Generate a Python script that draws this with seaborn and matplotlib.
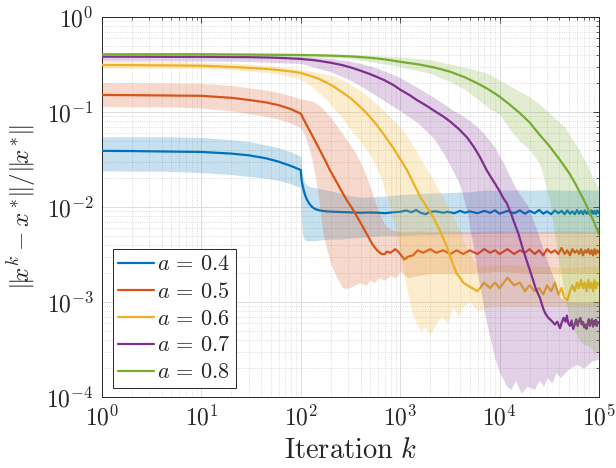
import matplotlib
matplotlib.use("Agg")
import matplotlib.pyplot as plt
import matplotlib.ticker as mticker
import numpy as np
import pandas as pd
import seaborn as sns

# ---------------- data ----------------
labels = [r"$a\,=\,0.4$", r"$a\,=\,0.5$", r"$a\,=\,0.6$", r"$a\,=\,0.7$", r"$a\,=\,0.8$"]
colors = ["#0072BD", "#D95319", "#EDB120", "#7E2F8E", "#77AC30"]

# sample positions of the noisy plateau at the end of the run
tail_x = [5000, 6000, 7000, 8000, 9000, 10000, 12000, 14000, 16000, 18000, 20000,
          22500, 25000, 27500, 30000, 33000, 36000, 39000, 42000, 45000, 48000, 51000,
          54000, 57000, 60000, 63000, 66000, 69000, 72000, 75000, 78000, 81000, 84000,
          87000, 90000, 93000, 96000, 100000]

# a = 0.4
blue_x = [1, 2, 5, 10, 20, 30, 45, 60, 80, 100, 100.5, 101, 102, 104, 107, 110, 115, 122,
          130, 140, 155, 180, 220, 300, 400, 500, 600, 700, 850, 1000, 1150, 1300, 1450,
          1600, 1800, 2000, 2300, 2700, 3000, 3500, 4000, 4500] + tail_x
blue_y = [0.039, 0.0388, 0.0383, 0.038, 0.0365, 0.035, 0.0325, 0.030, 0.027, 0.0245,
          0.022, 0.0205, 0.019, 0.017, 0.015, 0.0135, 0.012, 0.0108, 0.0100, 0.0095,
          0.0092, 0.0090, 0.0089, 0.0088, 0.0087, 0.00875, 0.0087, 0.0086, 0.0088,
          0.0089, 0.0092, 0.0088, 0.0093, 0.0087, 0.0084, 0.0089, 0.0090, 0.0087,
          0.0089, 0.0086, 0.0091, 0.0087,
          0.0090, 0.0086, 0.0091, 0.0087, 0.0092, 0.0085, 0.0091, 0.0086, 0.0092, 0.0085,
          0.0091, 0.0086, 0.0093, 0.0085, 0.0090, 0.0084, 0.0092, 0.0086, 0.0091, 0.0084,
          0.0092, 0.0085, 0.0090, 0.0084, 0.0093, 0.0085, 0.0091, 0.0084, 0.0092, 0.0085,
          0.0090, 0.0083, 0.0092, 0.0085, 0.0091, 0.0084, 0.0092, 0.0086]
blue_band_x = [1, 5, 10, 20, 30, 45, 60, 80, 100, 100.5, 101, 102, 104, 107, 110, 115,
               125, 140, 160, 200, 250, 300, 400, 500, 700, 1000, 1500, 2000, 3000, 5000,
               7000, 10000, 15000, 20000, 30000, 50000, 70000, 100000]
blue_lo = [0.024, 0.0237, 0.023, 0.022, 0.021, 0.020, 0.019, 0.0175, 0.016, 0.012, 0.009,
           0.0065, 0.0052, 0.0047, 0.0045, 0.0044, 0.0044, 0.0044, 0.0045, 0.0046, 0.0046,
           0.0047, 0.0048, 0.0049, 0.005, 0.005, 0.0051, 0.0051, 0.0052, 0.0052, 0.0053,
           0.0053, 0.0053, 0.0053, 0.0053, 0.0053, 0.0053, 0.0053]
blue_hi = [0.055, 0.0548, 0.054, 0.051, 0.049, 0.045, 0.042, 0.038, 0.034, 0.031, 0.028,
           0.025, 0.022, 0.0195, 0.018, 0.017, 0.0163, 0.016, 0.0155, 0.0148, 0.014,
           0.0132, 0.0127, 0.0128, 0.013, 0.0135, 0.0138, 0.014, 0.0142, 0.0145, 0.015,
           0.015, 0.0152, 0.015, 0.0152, 0.015, 0.0152, 0.015]

# a = 0.5
orange_x = [1, 2, 5, 10, 20, 30, 45, 60, 80, 100, 110, 125, 140, 160, 180, 196, 220, 250,
            290, 337, 400, 475, 530, 585, 650, 700, 735, 800, 890, 950, 1000, 1100, 1200,
            1340, 1500, 1700, 2000, 2300, 2700, 3200, 3700, 4300] + tail_x
orange_y = [0.151, 0.1505, 0.149, 0.148, 0.141, 0.134, 0.126, 0.118, 0.107, 0.096, 0.079,
            0.0615, 0.049, 0.0375, 0.0295, 0.0245, 0.0198, 0.0155, 0.0118, 0.0093, 0.0068,
            0.0049, 0.0040, 0.0035, 0.0032, 0.0032, 0.0034, 0.0033, 0.0036, 0.0034,
            0.0032, 0.0028, 0.0030, 0.0031, 0.0035, 0.0033, 0.0036, 0.0033, 0.0035,
            0.0032, 0.0035, 0.0032,
            0.0035, 0.0032, 0.0036, 0.0033, 0.0035, 0.0032, 0.0036, 0.0032, 0.0035, 0.0033,
            0.0036, 0.0032, 0.0035, 0.0031, 0.0036, 0.0033, 0.0035, 0.0032, 0.0037, 0.0032,
            0.0035, 0.0031, 0.0036, 0.0033, 0.0035, 0.0032, 0.0036, 0.0031, 0.0035, 0.0033,
            0.0036, 0.0032, 0.0035, 0.0031, 0.0036, 0.0032, 0.0035, 0.0033]
orange_band_x = [1, 5, 10, 20, 30, 45, 60, 80, 100, 110, 120, 130, 140, 150, 167, 185, 200,
                 230, 265, 300, 350, 395, 450, 500, 550, 600, 700, 800, 900, 1000, 1200,
                 1500, 2000, 3000, 5000, 10000, 20000, 50000, 100000]
orange_lo = [0.114, 0.113, 0.11, 0.103, 0.096, 0.09, 0.084, 0.076, 0.068, 0.056, 0.043,
             0.031, 0.021, 0.013, 0.0053, 0.0034, 0.0025, 0.0018, 0.0014, 0.0014, 0.0015,
             0.0016, 0.0015, 0.0017, 0.0016, 0.0018, 0.0017, 0.0019, 0.0018, 0.0021,
             0.0018, 0.0019, 0.002, 0.002, 0.002, 0.0021, 0.002, 0.002, 0.002]
orange_hi = [0.203, 0.202, 0.20, 0.19, 0.18, 0.17, 0.16, 0.148, 0.137, 0.135, 0.133, 0.13,
             0.125, 0.12, 0.108, 0.096, 0.087, 0.072, 0.058, 0.048, 0.038, 0.030, 0.022,
             0.016, 0.012, 0.009, 0.0065, 0.0058, 0.0056, 0.0055, 0.0055, 0.0056, 0.0055,
             0.0056, 0.0055, 0.0056, 0.0055, 0.0056, 0.0055]

# a = 0.6
yellow_x = [1, 2, 5, 10, 20, 30, 45, 60, 80, 100, 125, 150, 180, 215, 260, 316, 380, 460,
            570, 700, 850, 1000, 1170, 1370, 1590, 1850, 2150, 2500, 2950, 3400, 3700,
            4000, 4300] + tail_x
yellow_y = [0.312, 0.3115, 0.309, 0.307, 0.298, 0.292, 0.284, 0.276, 0.267, 0.258, 0.24,
            0.225, 0.205, 0.185, 0.162, 0.14, 0.118, 0.097, 0.075, 0.056, 0.042, 0.032,
            0.0245, 0.0175, 0.0128, 0.0100, 0.0078, 0.0057, 0.0038, 0.0025, 0.0020,
            0.0018, 0.0016,
            0.00145, 0.0013, 0.0016, 0.0014, 0.0016, 0.0014, 0.0018, 0.0015, 0.0016,
            0.0013, 0.0015, 0.0013, 0.0014, 0.0012, 0.0015, 0.0013, 0.0016, 0.0012,
            0.0014, 0.0011, 0.00105, 0.0013, 0.0015, 0.0013, 0.0016, 0.0014, 0.0017,
            0.0014, 0.0016, 0.0013, 0.0017, 0.0014, 0.0016, 0.0013, 0.0017, 0.0014,
            0.0016, 0.0015]
yellow_band_x = [1, 5, 10, 20, 30, 45, 60, 80, 100, 125, 150, 180, 215, 260, 316, 380, 460,
                 535, 620, 700, 800, 900, 1000, 1100, 1200, 1300, 1450, 1600, 1800, 2000,
                 2300, 2600, 3000, 3400, 3800, 4300, 5000, 6000, 8000, 10000, 20000, 50000,
                 100000]
yellow_lo = [0.29, 0.288, 0.286, 0.278, 0.27, 0.26, 0.25, 0.235, 0.22, 0.19, 0.16, 0.135,
             0.11, 0.087, 0.066, 0.052, 0.04, 0.031, 0.022, 0.015, 0.0095, 0.006, 0.0035,
             0.0018, 0.0012, 0.0008, 0.0006, 0.0005, 0.00055, 0.00045, 0.0006, 0.0007,
             0.0006, 0.0009, 0.0007, 0.0009, 0.001, 0.0008, 0.0009, 0.0009, 0.0009,
             0.0009, 0.0009]
yellow_hi = [0.34, 0.339, 0.335, 0.327, 0.32, 0.31, 0.30, 0.29, 0.28, 0.27, 0.26, 0.25,
             0.24, 0.218, 0.195, 0.172, 0.15, 0.13, 0.114, 0.10, 0.088, 0.078, 0.068,
             0.061, 0.054, 0.047, 0.039, 0.032, 0.026, 0.022, 0.017, 0.0135, 0.0102,
             0.008, 0.0062, 0.0045, 0.0031, 0.0024, 0.0024, 0.0025, 0.0024, 0.0023, 0.0024]

# a = 0.7
purple_x = [1, 2, 5, 10, 20, 30, 50, 70, 100, 140, 200, 260, 316, 400, 500, 600, 700, 850,
            1000, 1250, 1500, 1850, 2200, 2700, 3200, 3900, 4700, 5500, 6300, 7400, 8200,
            9000, 10000, 11000, 11800, 13000, 14000, 15500, 17300, 19000, 21000, 23000,
            25500, 27500, 29000, 31000, 33000, 36000, 38000, 40500, 42000, 44000, 46000,
            47500, 49000, 51000, 53000, 55000, 57000, 59000, 61000, 63000, 65000, 67000,
            69000, 71000, 73000, 75000, 77000, 79000, 81000, 83000, 85000, 87000, 89000,
            91000, 93000, 95000, 97000, 100000]
purple_y = [0.382, 0.382, 0.381, 0.381, 0.379, 0.378, 0.374, 0.369, 0.362, 0.35, 0.33,
            0.312, 0.295, 0.272, 0.25, 0.231, 0.215, 0.193, 0.172, 0.15, 0.132, 0.116,
            0.103, 0.09, 0.079, 0.066, 0.054, 0.043, 0.034, 0.0245, 0.0205, 0.0176,
            0.0147, 0.0122, 0.011, 0.0086, 0.0069, 0.0052, 0.0035, 0.0026, 0.0019,
            0.0014, 0.0011, 0.00085, 0.00075, 0.00068, 0.00064, 0.00058, 0.00062,
            0.00053, 0.0006, 0.00068, 0.00062, 0.00072, 0.0006, 0.00056, 0.00064,
            0.00052, 0.00058, 0.00066, 0.00056, 0.00064, 0.00068, 0.00058, 0.00062,
            0.00054, 0.00058, 0.00052, 0.0006, 0.00066, 0.00056, 0.00062, 0.00066,
            0.00055, 0.00063, 0.00058, 0.00065, 0.00056, 0.00062, 0.0006]
purple_band_x = [1, 5, 10, 30, 100, 200, 300, 400, 500, 700, 1000, 1500, 2200, 2800, 3360,
                 4000, 4700, 5400, 6300, 7400, 9000, 10000, 11000, 11800, 13000, 14400,
                 16500, 19000, 22400, 25000, 27700, 30000, 33600, 37000, 40800, 50000,
                 60000, 70000, 85000, 100000]
purple_lo = [0.345, 0.345, 0.344, 0.34, 0.325, 0.265, 0.222, 0.188, 0.163, 0.13, 0.103,
             0.077, 0.052, 0.035, 0.0245, 0.017, 0.009, 0.004, 0.0015, 0.0006, 0.00025,
             0.00018, 0.00015, 0.00013, 0.00012, 0.00015, 0.00011, 0.00013, 0.00012,
             0.00015, 0.00013, 0.00016, 0.00014, 0.00018, 0.00016, 0.0002, 0.00022,
             0.0002, 0.00024, 0.00025]
purple_hi = [0.395, 0.395, 0.395, 0.393, 0.385, 0.365, 0.345, 0.325, 0.305, 0.27, 0.23,
             0.18, 0.142, 0.12, 0.105, 0.095, 0.085, 0.076, 0.066, 0.055, 0.042, 0.034,
             0.029, 0.0245, 0.02, 0.016, 0.013, 0.0105, 0.0068, 0.0048, 0.0035, 0.0027,
             0.002, 0.0015, 0.0011, 0.001, 0.001, 0.001, 0.001, 0.001]

# a = 0.8
green_x = [1, 3, 10, 30, 100, 200, 316, 500, 700, 1000, 1585, 2240, 3160, 4470, 6310,
           7940, 10000, 12600, 15850, 19950, 25100, 31600, 39800, 50100, 56200, 63100,
           70800, 79400, 89100, 100000]
green_y = [0.405, 0.405, 0.405, 0.402, 0.398, 0.392, 0.385, 0.372, 0.358, 0.338, 0.315,
           0.293, 0.266, 0.232, 0.195, 0.17, 0.145, 0.12, 0.098, 0.078, 0.058, 0.044,
           0.032, 0.0228, 0.0185, 0.0148, 0.0117, 0.0091, 0.0069, 0.0052]
green_band_x = [1, 10, 100, 316, 1000, 2000, 3160, 4470, 6310, 7940, 10000, 12600, 15850,
                19950, 22000, 25100, 28000, 31600, 35000, 39800, 45000, 50100, 56200,
                63100, 70800, 79400, 89100, 100000]
green_lo = [0.39, 0.39, 0.382, 0.367, 0.30, 0.255, 0.21, 0.172, 0.132, 0.108, 0.095, 0.066,
            0.05, 0.04, 0.035, 0.029, 0.02, 0.012, 0.006, 0.0025, 0.0012, 0.0007, 0.0005,
            0.0004, 0.00035, 0.00035, 0.0003, 0.0003]
green_hi = [0.42, 0.42, 0.415, 0.405, 0.38, 0.355, 0.32, 0.295, 0.27, 0.25, 0.215, 0.19,
            0.165, 0.145, 0.134, 0.122, 0.11, 0.098, 0.088, 0.078, 0.07, 0.058, 0.048,
            0.04, 0.032, 0.025, 0.019, 0.016]

lines_x = [blue_x, orange_x, yellow_x, purple_x, green_x]
lines_y = [blue_y, orange_y, yellow_y, purple_y, green_y]
bands_x = [blue_band_x, orange_band_x, yellow_band_x, purple_band_x, green_band_x]
bands_lo = [blue_lo, orange_lo, yellow_lo, purple_lo, green_lo]
bands_hi = [blue_hi, orange_hi, yellow_hi, purple_hi, green_hi]

xticks = [1, 10, 100, 1000, 10000, 100000]
yticks = [1e-4, 1e-3, 1e-2, 1e-1, 1]

# ---------------- styling ----------------
sns.set_theme(style="white")
plt.rcParams["mathtext.fontset"] = "cm"
plt.rcParams["font.family"] = ["cmr10", "DejaVu Serif"]
plt.rcParams["axes.formatter.use_mathtext"] = True
plt.rcParams["axes.unicode_minus"] = False

fig = plt.figure(figsize=(6.16, 4.68), dpi=100)
ax = fig.add_axes([102 / 616, 1 - 397 / 468, 497 / 616, 380 / 468])
ax.set_xscale("log")
ax.set_yscale("log")

for i, (lx, ly, bx, lo, hi, c, lab) in enumerate(
        zip(lines_x, lines_y, bands_x, bands_lo, bands_hi, colors, labels)):
    ax.fill_between(bx, lo, hi, color=c, alpha=0.22, linewidth=0, zorder=2 + 2 * i)
    d = pd.DataFrame({"k": lx, "err": ly})
    sns.lineplot(data=d, x="k", y="err", color=c, estimator=None, sort=False,
                 linewidth=1.6, ax=ax, label=lab, zorder=3 + 2 * i)

ax.set_xlim(1, 1e5)
ax.set_ylim(1e-4, 1)
ax.set_xticks(xticks)
ax.set_yticks(yticks)
fmt = mticker.FuncFormatter(lambda v, p: r"$10^{%d}$" % round(np.log10(v)))
ax.xaxis.set_major_formatter(fmt)
ax.yaxis.set_major_formatter(fmt)
ax.xaxis.set_minor_locator(mticker.LogLocator(base=10, subs=np.arange(2, 10), numticks=20))
ax.yaxis.set_minor_locator(mticker.LogLocator(base=10, subs=np.arange(2, 10), numticks=20))
ax.xaxis.set_minor_formatter(mticker.NullFormatter())
ax.yaxis.set_minor_formatter(mticker.NullFormatter())

ax.grid(True, which="major", color="#dcdcdc", linewidth=0.7, linestyle="-")
ax.grid(True, which="minor", color="#d2d2d2", linewidth=0.6, linestyle=":")
ax.set_axisbelow(True)

ax.tick_params(which="both", direction="in", top=True, right=True, colors="#262626",
               labelcolor="#262626")
ax.tick_params(which="major", length=4.5, width=0.6, labelsize=17, pad=6)
ax.tick_params(which="minor", length=2.5, width=0.5)
for s in ax.spines.values():
    s.set_color("#262626")
    s.set_linewidth(0.7)

ax.set_xlabel(r"$\mathrm{Iteration}\ k$", fontsize=20.5, color="#262626", labelpad=5)
ax.set_ylabel(r"$\Vert\! x^k - x^*\!\Vert/\Vert\! x^*\!\Vert$", fontsize=18,
              color="#262626", labelpad=6)

handles, labs = ax.get_legend_handles_labels()
leg = ax.legend(handles, labs, loc="lower left", bbox_to_anchor=(0.022, 0.024),
                borderaxespad=0, fontsize=16, frameon=True, fancybox=False,
                edgecolor="#262626", framealpha=1, handlelength=1.6,
                handletextpad=0.15, labelspacing=0.33, borderpad=0.25)
leg.get_frame().set_linewidth(0.7)
leg.set_zorder(20)

fig.savefig("out.png", dpi=100)
